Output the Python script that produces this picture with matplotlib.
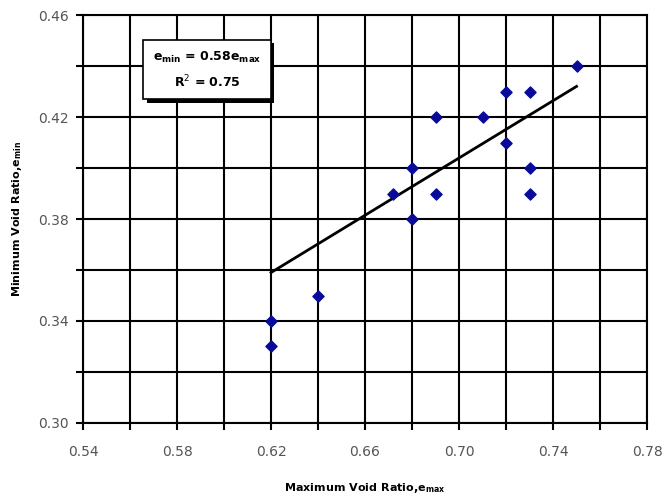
import matplotlib
matplotlib.use("Agg")
import matplotlib.pyplot as plt
import matplotlib.patheffects as pe
from matplotlib.ticker import MultipleLocator, FixedLocator

e_max = [0.62, 0.62, 0.64, 0.672, 0.68, 0.68, 0.69, 0.69, 0.71, 0.72, 0.72, 0.73, 0.73, 0.73, 0.75]
e_min = [0.34, 0.33, 0.35, 0.39, 0.40, 0.38, 0.42, 0.39, 0.42, 0.43, 0.41, 0.43, 0.40, 0.39, 0.44]
trend_x = [0.62, 0.75]
trend_y = [0.359, 0.432]
x_ticks = [0.54, 0.58, 0.62, 0.66, 0.70, 0.74, 0.78]
y_ticks = [0.30, 0.34, 0.38, 0.42, 0.46]

fig = plt.figure(figsize=(6.65, 4.97), dpi=100)
ax = fig.add_axes([0.1248, 0.1489, 0.8482, 0.8209])
ax.set_xlim(0.54, 0.78)
ax.set_ylim(0.30, 0.46)

ax.xaxis.set_major_locator(FixedLocator(x_ticks))
ax.yaxis.set_major_locator(FixedLocator(y_ticks))
ax.xaxis.set_minor_locator(MultipleLocator(0.02))
ax.yaxis.set_minor_locator(MultipleLocator(0.02))
ax.set_xticklabels([f"{v:.2f}" for v in x_ticks])
ax.set_yticklabels([f"{v:.2f}" for v in y_ticks])
ax.grid(True, which="both", color="black", linewidth=1.5)
ax.set_axisbelow(True)
ax.tick_params(which="both", direction="out", length=5, width=1.5, color="black",
               labelcolor="#555555", labelsize=10)
ax.tick_params(axis="x", which="major", pad=11)
ax.tick_params(axis="y", which="major", pad=5)
for s in ax.spines.values():
    s.set_linewidth(1.5)

ax.plot(trend_x, trend_y, color="black", linewidth=2, zorder=3)
ax.scatter(e_max, e_min, marker="D", s=32, color="#0a0a9a", zorder=4)

ax.set_xlabel(r"Maximum Void Ratio,e$_{\mathbf{max}}$", fontsize=8, fontweight="bold", labelpad=16)
ax.set_ylabel(r"Minimum Void Ratio,e$_{\mathbf{min}}$", fontsize=8, fontweight="bold", labelpad=10)

t = ax.text(0.22, 0.865, "e$_{\\mathbf{min}}$ = 0.58e$_{\\mathbf{max}}$\nR$^2$ = 0.75",
            transform=ax.transAxes, ha="center", va="center", fontsize=9, fontweight="bold",
            linespacing=1.6,
            bbox=dict(boxstyle="square,pad=0.75", facecolor="white", edgecolor="black", linewidth=1.2),
            zorder=6)
t.get_bbox_patch().set_path_effects([
    pe.SimplePatchShadow(offset=(2.5, -2.5), shadow_rgbFace="black", alpha=1.0),
    pe.Normal()])

fig.savefig("out.png", dpi=100)
